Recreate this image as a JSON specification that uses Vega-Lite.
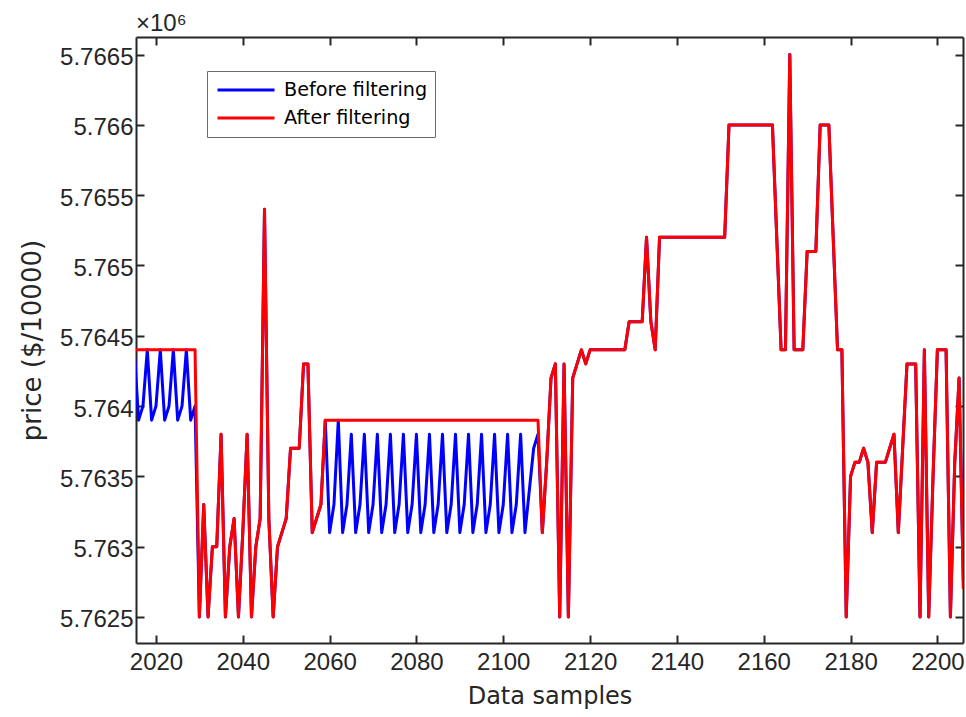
{
  "$schema": "https://vega.github.io/schema/vega-lite/v6.json",
  "width": 827,
  "height": 606,
  "autosize": {"type": "none"},
  "padding": {"left": 136, "top": 37, "right": 3, "bottom": 74},
  "background": "white",
  "title": {"text": "×10⁶", "anchor": "start", "frame": "group", "fontSize": 24, "fontWeight": "normal", "font": "Liberation Sans", "color": "#262626", "offset": 0},
  "config": {
    "view": {"stroke": null},
    "axis": {"grid": false, "domainColor": "#262626", "domainWidth": 2, "tickColor": "#262626", "tickWidth": 2, "tickSize": -8, "labelFont": "Liberation Sans", "labelFontSize": 24, "labelColor": "#262626", "titleFont": "DejaVu Sans", "titleFontWeight": "normal", "titleColor": "#262626"}
  },
  "data": {"values": [
    {"x":2015,"b":5764400,"a":5764400},{"x":2016,"b":5763900,"a":5764400},{"x":2017,"b":5764000,"a":5764400},{"x":2018,"b":5764400,"a":5764400},{"x":2019,"b":5763900,"a":5764400},
    {"x":2020,"b":5764000,"a":5764400},{"x":2021,"b":5764400,"a":5764400},{"x":2022,"b":5763900,"a":5764400},{"x":2023,"b":5764000,"a":5764400},{"x":2024,"b":5764400,"a":5764400},
    {"x":2025,"b":5763900,"a":5764400},{"x":2026,"b":5764000,"a":5764400},{"x":2027,"b":5764400,"a":5764400},{"x":2028,"b":5763900,"a":5764400},{"x":2029,"b":5764000,"a":5764400},
    {"x":2030,"b":5762500,"a":5762500},{"x":2031,"b":5763300,"a":5763300},{"x":2032,"b":5762500,"a":5762500},{"x":2033,"b":5763000,"a":5763000},{"x":2034,"b":5763000,"a":5763000},
    {"x":2035,"b":5763800,"a":5763800},{"x":2036,"b":5762500,"a":5762500},{"x":2037,"b":5763000,"a":5763000},{"x":2038,"b":5763200,"a":5763200},{"x":2039,"b":5762500,"a":5762500},
    {"x":2040,"b":5763100,"a":5763100},{"x":2041,"b":5763800,"a":5763800},{"x":2042,"b":5762500,"a":5762500},{"x":2043,"b":5763000,"a":5763000},{"x":2044,"b":5763200,"a":5763200},
    {"x":2045,"b":5765400,"a":5765400},{"x":2046,"b":5763200,"a":5763200},{"x":2047,"b":5762500,"a":5762500},{"x":2048,"b":5763000,"a":5763000},{"x":2049,"b":5763100,"a":5763100},
    {"x":2050,"b":5763200,"a":5763200},{"x":2051,"b":5763700,"a":5763700},{"x":2052,"b":5763700,"a":5763700},{"x":2053,"b":5763700,"a":5763700},{"x":2054,"b":5764300,"a":5764300},
    {"x":2055,"b":5764300,"a":5764300},{"x":2056,"b":5763100,"a":5763100},{"x":2057,"b":5763200,"a":5763200},{"x":2058,"b":5763300,"a":5763300},{"x":2059,"b":5763900,"a":5763900},
    {"x":2060,"b":5763100,"a":5763900},{"x":2061,"b":5763300,"a":5763900},{"x":2062,"b":5763900,"a":5763900},{"x":2063,"b":5763100,"a":5763900},{"x":2064,"b":5763300,"a":5763900},
    {"x":2065,"b":5763800,"a":5763900},{"x":2066,"b":5763100,"a":5763900},{"x":2067,"b":5763300,"a":5763900},{"x":2068,"b":5763800,"a":5763900},{"x":2069,"b":5763100,"a":5763900},
    {"x":2070,"b":5763300,"a":5763900},{"x":2071,"b":5763800,"a":5763900},{"x":2072,"b":5763100,"a":5763900},{"x":2073,"b":5763300,"a":5763900},{"x":2074,"b":5763800,"a":5763900},
    {"x":2075,"b":5763100,"a":5763900},{"x":2076,"b":5763300,"a":5763900},{"x":2077,"b":5763800,"a":5763900},{"x":2078,"b":5763100,"a":5763900},{"x":2079,"b":5763300,"a":5763900},
    {"x":2080,"b":5763800,"a":5763900},{"x":2081,"b":5763100,"a":5763900},{"x":2082,"b":5763300,"a":5763900},{"x":2083,"b":5763800,"a":5763900},{"x":2084,"b":5763100,"a":5763900},
    {"x":2085,"b":5763300,"a":5763900},{"x":2086,"b":5763800,"a":5763900},{"x":2087,"b":5763100,"a":5763900},{"x":2088,"b":5763300,"a":5763900},{"x":2089,"b":5763800,"a":5763900},
    {"x":2090,"b":5763100,"a":5763900},{"x":2091,"b":5763300,"a":5763900},{"x":2092,"b":5763800,"a":5763900},{"x":2093,"b":5763100,"a":5763900},{"x":2094,"b":5763300,"a":5763900},
    {"x":2095,"b":5763800,"a":5763900},{"x":2096,"b":5763100,"a":5763900},{"x":2097,"b":5763300,"a":5763900},{"x":2098,"b":5763800,"a":5763900},{"x":2099,"b":5763100,"a":5763900},
    {"x":2100,"b":5763300,"a":5763900},{"x":2101,"b":5763800,"a":5763900},{"x":2102,"b":5763100,"a":5763900},{"x":2103,"b":5763300,"a":5763900},{"x":2104,"b":5763800,"a":5763900},
    {"x":2105,"b":5763100,"a":5763900},{"x":2106,"b":5763400,"a":5763900},{"x":2107,"b":5763700,"a":5763900},{"x":2108,"b":5763800,"a":5763900},{"x":2109,"b":5763100,"a":5763100},
    {"x":2110,"b":5763600,"a":5763600},{"x":2111,"b":5764200,"a":5764200},{"x":2112,"b":5764300,"a":5764300},{"x":2113,"b":5762500,"a":5762500},{"x":2114,"b":5764300,"a":5764300},
    {"x":2115,"b":5762500,"a":5762500},{"x":2116,"b":5764200,"a":5764200},{"x":2117,"b":5764300,"a":5764300},{"x":2118,"b":5764400,"a":5764400},{"x":2119,"b":5764300,"a":5764300},
    {"x":2120,"b":5764400,"a":5764400},{"x":2121,"b":5764400,"a":5764400},{"x":2122,"b":5764400,"a":5764400},{"x":2123,"b":5764400,"a":5764400},{"x":2124,"b":5764400,"a":5764400},
    {"x":2125,"b":5764400,"a":5764400},{"x":2126,"b":5764400,"a":5764400},{"x":2127,"b":5764400,"a":5764400},{"x":2128,"b":5764400,"a":5764400},{"x":2129,"b":5764600,"a":5764600},
    {"x":2130,"b":5764600,"a":5764600},{"x":2131,"b":5764600,"a":5764600},{"x":2132,"b":5764600,"a":5764600},{"x":2133,"b":5765200,"a":5765200},{"x":2134,"b":5764600,"a":5764600},
    {"x":2135,"b":5764400,"a":5764400},{"x":2136,"b":5765200,"a":5765200},{"x":2137,"b":5765200,"a":5765200},{"x":2138,"b":5765200,"a":5765200},{"x":2139,"b":5765200,"a":5765200},
    {"x":2140,"b":5765200,"a":5765200},{"x":2141,"b":5765200,"a":5765200},{"x":2142,"b":5765200,"a":5765200},{"x":2143,"b":5765200,"a":5765200},{"x":2144,"b":5765200,"a":5765200},
    {"x":2145,"b":5765200,"a":5765200},{"x":2146,"b":5765200,"a":5765200},{"x":2147,"b":5765200,"a":5765200},{"x":2148,"b":5765200,"a":5765200},{"x":2149,"b":5765200,"a":5765200},
    {"x":2150,"b":5765200,"a":5765200},{"x":2151,"b":5765200,"a":5765200},{"x":2152,"b":5766000,"a":5766000},{"x":2153,"b":5766000,"a":5766000},{"x":2154,"b":5766000,"a":5766000},
    {"x":2155,"b":5766000,"a":5766000},{"x":2156,"b":5766000,"a":5766000},{"x":2157,"b":5766000,"a":5766000},{"x":2158,"b":5766000,"a":5766000},{"x":2159,"b":5766000,"a":5766000},
    {"x":2160,"b":5766000,"a":5766000},{"x":2161,"b":5766000,"a":5766000},{"x":2162,"b":5766000,"a":5766000},{"x":2163,"b":5765200,"a":5765200},{"x":2164,"b":5764400,"a":5764400},
    {"x":2165,"b":5764400,"a":5764400},{"x":2166,"b":5766500,"a":5766500},{"x":2167,"b":5764400,"a":5764400},{"x":2168,"b":5764400,"a":5764400},{"x":2169,"b":5764400,"a":5764400},
    {"x":2170,"b":5765100,"a":5765100},{"x":2171,"b":5765100,"a":5765100},{"x":2172,"b":5765100,"a":5765100},{"x":2173,"b":5766000,"a":5766000},{"x":2174,"b":5766000,"a":5766000},
    {"x":2175,"b":5766000,"a":5766000},{"x":2176,"b":5765200,"a":5765200},{"x":2177,"b":5764400,"a":5764400},{"x":2178,"b":5764400,"a":5764400},{"x":2179,"b":5762500,"a":5762500},
    {"x":2180,"b":5763500,"a":5763500},{"x":2181,"b":5763600,"a":5763600},{"x":2182,"b":5763600,"a":5763600},{"x":2183,"b":5763700,"a":5763700},{"x":2184,"b":5763600,"a":5763600},
    {"x":2185,"b":5763100,"a":5763100},{"x":2186,"b":5763600,"a":5763600},{"x":2187,"b":5763600,"a":5763600},{"x":2188,"b":5763600,"a":5763600},{"x":2189,"b":5763700,"a":5763700},
    {"x":2190,"b":5763800,"a":5763800},{"x":2191,"b":5763100,"a":5763100},{"x":2192,"b":5763700,"a":5763700},{"x":2193,"b":5764300,"a":5764300},{"x":2194,"b":5764300,"a":5764300},
    {"x":2195,"b":5764300,"a":5764300},{"x":2196,"b":5762500,"a":5762500},{"x":2197,"b":5764400,"a":5764400},{"x":2198,"b":5762500,"a":5762500},{"x":2199,"b":5763500,"a":5763500},
    {"x":2200,"b":5764400,"a":5764400},{"x":2201,"b":5764400,"a":5764400},{"x":2202,"b":5764400,"a":5764400},{"x":2203,"b":5762500,"a":5762500},{"x":2204,"b":5763600,"a":5763600},
    {"x":2205,"b":5764200,"a":5764200},{"x":2206,"b":5762700,"a":5762700}
  ]},
  "layer": [
    {
      "mark": {"type": "line", "clip": true, "strokeWidth": 3, "strokeJoin": "round"},
      "encoding": {
        "x": {"field": "x", "type": "quantitative", "scale": {"domain": [2015.4, 2205.9], "nice": false, "zero": false},
              "axis": {"orient": "bottom", "values": [2020,2040,2060,2080,2100,2120,2140,2160,2180,2200], "format": "d", "title": "Data samples", "titleFontSize": 24, "labelPadding": 15, "titlePadding": 10}},
        "y": {"field": "b", "type": "quantitative", "scale": {"domain": [5762315, 5766625], "nice": false, "zero": false},
              "axis": {"orient": "left", "values": [5762500,5763000,5763500,5764000,5764500,5765000,5765500,5766000,5766500], "labelExpr": "format(datum.value/1000000, '.4~f')", "title": "price ($/10000)", "titleFontSize": 26, "labelPadding": 11, "labelOffset": 3, "titlePadding": 14}},
        "color": {"datum": "Before filtering", "type": "nominal",
                  "scale": {"domain": ["Before filtering", "After filtering"], "range": ["#0000ff", "#ff0000"]},
                  "legend": {"orient": "none", "legendX": 71, "legendY": 34, "title": null, "symbolType": "stroke", "symbolStrokeWidth": 3, "symbolSize": 3249, "symbolOffset": 2,
                             "clipHeight": 24, "rowPadding": 4, "labelOffset": 8,
                             "labelFontSize": 19.2, "labelFont": "DejaVu Sans", "labelColor": "#000000", "strokeColor": "#6a6a6a", "fillColor": "#ffffff", "padding": 7}}
      }
    },
    {
      "mark": {"type": "line", "clip": true, "strokeWidth": 3, "strokeJoin": "round"},
      "encoding": {
        "x": {"field": "x", "type": "quantitative",
              "axis": {"orient": "top", "values": [2020,2040,2060,2080,2100,2120,2140,2160,2180,2200], "labels": false, "title": null}},
        "y": {"field": "a", "type": "quantitative",
              "axis": {"orient": "right", "values": [5762500,5763000,5763500,5764000,5764500,5765000,5765500,5766000,5766500], "labels": false, "title": null}},
        "color": {"datum": "After filtering", "type": "nominal"}
      }
    }
  ],
  "resolve": {"axis": {"x": "independent", "y": "independent"}}
}
